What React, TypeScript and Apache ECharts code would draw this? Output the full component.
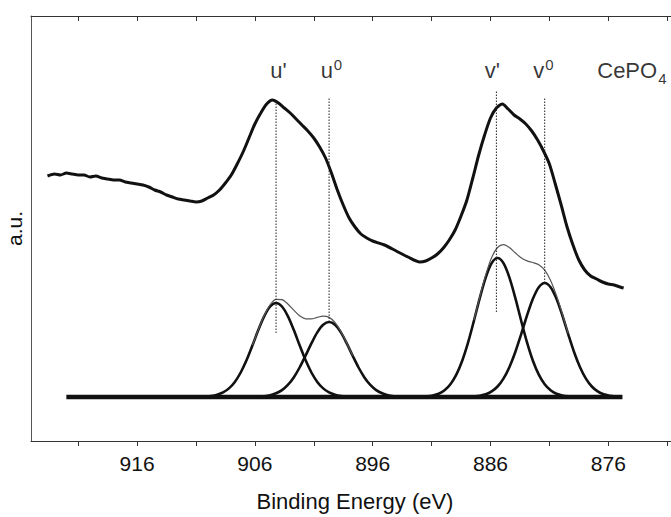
import React, { useEffect, useRef } from "react";
import * as echarts from "echarts";

// Binding energy (eV) vs intensity (a.u., arbitrary units above fitted baseline)
const spectrum: number[][] = [
  [923.6, 221], [923, 223], [922.5, 222], [922, 224], [921.5, 223], [921, 222], [920.5, 222], [920, 220],
  [919.5, 221], [919, 219], [918.5, 218], [918, 217], [917.5, 217], [917, 215], [916.5, 214], [916, 213],
  [915.5, 212], [915, 210], [914.5, 207], [914, 205], [913.5, 202], [913, 200], [912.5, 198], [912, 197],
  [911.5, 196], [911, 195], [910.5, 196], [910, 199], [909.5, 202], [909, 207], [908.5, 214], [908, 222],
  [907.5, 233], [907, 245], [906.5, 259], [906, 273], [905.5, 284], [905, 293], [904.5, 297], [904, 294],
  [903.5, 289], [903, 284], [902.5, 278], [902, 272], [901.5, 266], [901, 259], [900.5, 250], [900, 239],
  [899.5, 224], [899, 207], [898.5, 192], [898, 179], [897.5, 170], [897, 163], [896.5, 159], [896, 156],
  [895, 152], [894, 146], [893, 140], [892, 135], [891.5, 136], [891, 139], [890.5, 143], [890, 149],
  [889.5, 157], [889, 167], [888.5, 181], [888, 197], [887.5, 219], [887, 242], [886.5, 262], [886, 279],
  [885.5, 289], [885, 293], [884.5, 288], [884, 282], [883.5, 278], [883, 273], [882.5, 266], [882, 257],
  [881.5, 246], [881, 233], [880.5, 213], [880, 192], [879.5, 170], [879, 152], [878.5, 137], [878, 127],
  [877.5, 121], [877, 118], [876.5, 115], [876, 113], [875.5, 112], [875, 110], [874.7, 109],
];

const uPrime: number[][] = [
  [910.2, 0.4], [909.7, 1.0], [909.2, 2.3], [908.7, 4.6], [908.2, 8.6], [907.7, 15.1], [907.2, 24.5],
  [906.7, 36.9], [906.2, 51.7], [905.7, 67.2], [905.2, 80.9], [904.7, 90.5], [904.2, 94], [903.7, 90.5],
  [903.2, 80.9], [902.7, 67.2], [902.2, 51.7], [901.7, 36.9], [901.2, 24.5], [900.7, 15.1], [900.2, 8.6],
  [899.7, 4.6], [899.2, 2.3], [898.7, 1.0], [898.2, 0.4],
];
const uZero: number[][] = [
  [905.7, 0.3], [905.2, 0.8], [904.7, 1.8], [904.2, 3.7], [903.7, 6.9], [903.2, 12.1], [902.7, 19.6],
  [902.2, 29.5], [901.7, 41.3], [901.2, 53.6], [900.7, 64.6], [900.2, 72.2], [899.7, 75], [899.2, 72.2],
  [898.7, 64.6], [898.2, 53.6], [897.7, 41.3], [897.2, 29.5], [896.7, 19.6], [896.2, 12.1], [895.7, 6.9],
  [895.2, 3.7], [894.7, 1.8], [894.2, 0.8], [893.7, 0.3],
];
const vPrime: number[][] = [
  [891.4, 0.6], [890.9, 1.5], [890.4, 3.3], [889.9, 6.8], [889.4, 12.8], [888.9, 22.4], [888.4, 36.3],
  [887.9, 54.6], [887.4, 76.5], [886.9, 99.4], [886.4, 119.7], [885.9, 133.9], [885.4, 139], [884.9, 133.9],
  [884.4, 119.7], [883.9, 99.4], [883.4, 76.5], [882.9, 54.6], [882.4, 36.3], [881.9, 22.4], [881.4, 12.8],
  [880.9, 6.8], [880.4, 3.3], [879.9, 1.5], [879.4, 0.6],
];
const vZero: number[][] = [
  [887.4, 0.5], [886.9, 1.3], [886.4, 2.7], [885.9, 5.6], [885.4, 10.5], [884.9, 18.4], [884.4, 29.8],
  [883.9, 44.8], [883.4, 62.7], [882.9, 81.5], [882.4, 98.2], [881.9, 109.8], [881.4, 114], [880.9, 109.8],
  [880.4, 98.2], [879.9, 81.5], [879.4, 62.7], [878.9, 44.8], [878.4, 29.8], [877.9, 18.4], [877.4, 10.5],
  [876.9, 5.6], [876.4, 2.7], [875.9, 1.3], [875.4, 0.5],
];
const uEnvelope: number[][] = [
  [906.2, 51.8], [905.7, 67.5], [905.2, 81.7], [904.7, 92.3], [904.2, 97.7], [903.7, 97.4], [903.2, 93.0],
  [902.7, 86.8], [902.2, 81.2], [901.7, 78.2], [901.2, 78.1], [900.7, 79.7], [900.2, 80.8], [899.7, 79.6],
  [899.2, 74.5], [898.7, 65.6], [898.2, 54.0], [897.7, 41.5],
];
const vEnvelope: number[][] = [
  [887.4, 77.0], [886.9, 100.7], [886.4, 122.4], [885.9, 139.5], [885.4, 149.5], [884.9, 152.3], [884.4, 149.5],
  [883.9, 144.2], [883.4, 139.2], [882.9, 136.1], [882.4, 134.5], [881.9, 132.2], [881.4, 126.8], [880.9, 116.6],
  [880.4, 101.5], [879.9, 83.0], [879.4, 63.3],
];
const baseline: number[][] = [[922, 0], [874.8, 0]];

// dotted peak markers: [energy, bottom, top]
const markerLines: number[][] = [
  [904.2, 64, 297],
  [899.7, 75, 300],
  [885.5, 85, 307],
  [881.4, 114, 300],
];

const peakLabels: string[] = ["{b|u'}", "{b|u}{sup|0}", "{b|v'}", "{b|v}{sup|0}", "{b|CePO}{sub|4}"];
const peakLabelEnergy: number[] = [904.0, 899.5, 885.85, 881.5, 874.0];
const peakLabelLevel = 327;

const tickValues: number[] = [921, 916, 911, 906, 901, 896, 891, 886, 881, 876, 871];
const labelValues: number[] = [916, 906, 896, 886, 876];

const FONT = "'Liberation Sans', Arial, Helvetica, sans-serif";

export default function App() {
  const ref = useRef<HTMLDivElement>(null);
  useEffect(() => {
    const chart = echarts.init(ref.current!, null, { renderer: "svg" });
    const thick = (data: number[][], width: number, name: string) => ({
      type: "line",
      name,
      data,
      smooth: 0.3,
      showSymbol: false,
      symbol: "none",
      xAxisIndex: 0,
      yAxisIndex: 0,
      lineStyle: { color: "#111", width },
      silent: true,
    });
    const series: any[] = [
      thick(baseline, 4.5, "baseline"),
      thick(uPrime, 2.6, "u'"),
      thick(uZero, 2.6, "u0"),
      thick(vPrime, 2.6, "v'"),
      thick(vZero, 2.6, "v0"),
      {
        ...thick(uEnvelope, 1.2, "uEnv"),
        lineStyle: { color: "#555", width: 1.2 },
      },
      {
        ...thick(vEnvelope, 1.2, "vEnv"),
        lineStyle: { color: "#555", width: 1.2 },
      },
      { ...thick(spectrum, 3, "spectrum"), smooth: 0.25 },
      ...markerLines.map((m, i) => ({
        type: "line",
        name: "marker" + i,
        data: [[m[0], m[1]], [m[0], m[2]]],
        showSymbol: false,
        symbol: "none",
        lineStyle: { color: "#222", width: 1, type: [1.5, 1.5] },
        silent: true,
      })),
      {
        type: "scatter",
        name: "labels",
        symbolSize: 1,
        itemStyle: { color: "transparent" },
        data: peakLabelEnergy.map((e, i) => ({ value: [e, peakLabelLevel], label: { formatter: peakLabels[i] } })),
        label: {
          show: true,
          position: "inside",
          color: "#000",
          fontFamily: FONT,
          rich: {
            b: { fontSize: 22, lineHeight: 32, fontFamily: FONT, color: "#000", verticalAlign: "middle" },
            sup: { fontSize: 15, lineHeight: 15, fontFamily: FONT, color: "#000", verticalAlign: "top", padding: [3, 0, 0, 1] },
            sub: { fontSize: 15, lineHeight: 15, fontFamily: FONT, color: "#000", verticalAlign: "bottom", padding: [0, 0, 0, 1] },
          },
        },
        silent: true,
      },
    ];
    chart.setOption({
      animation: false,
      backgroundColor: "#fff",
      textStyle: { fontFamily: FONT },
      grid: { left: 31, top: 16, width: 648, height: 425, containLabel: false, outerBoundsMode: "none" },
      xAxis: [
        {
          type: "value",
          min: 870,
          max: 925,
          inverse: true,
          position: "bottom",
          name: "Binding Energy (eV)",
          nameLocation: "middle",
          nameGap: 49,
          nameTextStyle: { fontSize: 22, color: "#111", fontFamily: FONT },
          axisLine: { show: true, onZero: false, lineStyle: { color: "#333", width: 1 } },
          axisTick: { show: true, customValues: tickValues, length: 5, inside: false, lineStyle: { color: "#333" } },
          axisLabel: { show: true, customValues: labelValues, fontSize: 21, color: "#111", margin: 12, fontFamily: FONT },
          splitLine: { show: false },
        },
        {
          type: "value",
          min: 870,
          max: 925,
          inverse: true,
          position: "top",
          axisLine: { show: true, onZero: false, lineStyle: { color: "#333", width: 1 } },
          axisTick: { show: true, customValues: tickValues, length: 5, inside: true, lineStyle: { color: "#333" } },
          axisLabel: { show: false },
          splitLine: { show: false },
        },
      ],
      yAxis: {
        type: "value",
        min: -44,
        max: 381,
        name: "a.u.",
        nameLocation: "middle",
        nameGap: 6,
        nameTextStyle: { fontSize: 21, color: "#111", fontFamily: FONT },
        axisLine: { show: true, onZero: false, lineStyle: { color: "#555", width: 1 } },
        axisTick: { show: false },
        axisLabel: { show: false },
        splitLine: { show: false },
      },
      series,
    });
    return () => chart.dispose();
  }, []);
  return (
    <div
      ref={ref}
      style={{ position: "absolute", left: 0, top: 0, width: 671, height: 517, background: "#fff" }}
    />
  );
}
